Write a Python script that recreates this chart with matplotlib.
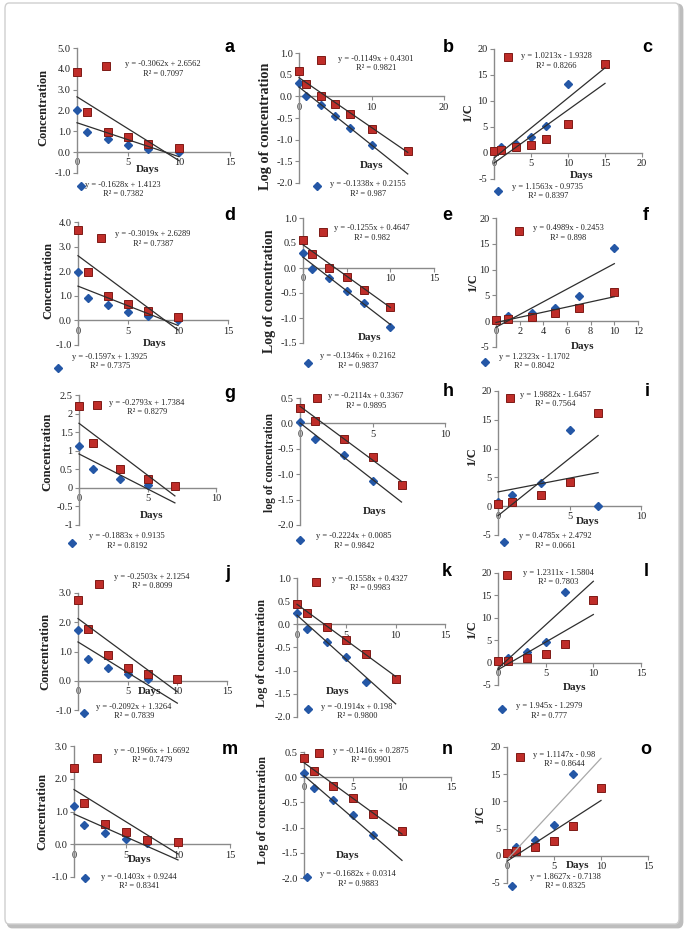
import matplotlib
matplotlib.use('Agg')
import matplotlib.pyplot as plt
import numpy as np
from matplotlib.patches import FancyBboxPatch
from matplotlib.lines import Line2D
from matplotlib.ticker import FuncFormatter

plt.rcParams['font.family'] = ['Liberation Serif', 'DejaVu Serif']
plt.rcParams['axes.unicode_minus'] = False

# ---------------- data ----------------
days4 = [0, 1, 3, 5]
days5 = [0, 1, 3, 5, 7]
days6 = [0, 1, 3, 5, 7, 10]
days7 = [0, 1, 3, 5, 7, 10, 15]

a_red = [3.85, 1.92, 0.99, 0.71, 0.40, 0.19]
a_blue = [2.04, 0.99, 0.63, 0.32, 0.16, 0.02]
b_red = [0.58, 0.28, 0.00, -0.17, -0.41, -0.75, -1.25]
b_blue = [0.31, 0.00, -0.20, -0.46, -0.72, -1.13]
c_red = [0.3, 0.6, 1.2, 1.5, 2.7, 5.6, 17.1]
c_blue = [0.3, 1.1, 1.8, 3.0, 5.2, 13.3]
d_red = [3.69, 1.97, 1.00, 0.66, 0.38, 0.14]
d_blue = [1.97, 0.91, 0.61, 0.33, 0.19, 0.01]
e_red = [0.56, 0.29, 0.01, -0.17, -0.43, -0.77]
e_blue = [0.31, -0.02, -0.20, -0.46, -0.71, -1.19]
f_red = [0.3, 0.5, 0.8, 1.5, 2.6, 5.7]
f_blue = [0.3, 1.0, 1.5, 2.6, 4.8, 14.2]
g_red = [2.21, 1.20, 0.50, 0.25, 0.05]
g_blue = [1.14, 0.50, 0.24, 0.08]
h_red = [0.31, 0.05, -0.31, -0.66, -1.21]
h_blue = [0.03, -0.31, -0.62, -1.13]
i_red = [0.35, 0.75, 1.9, 4.2, 16.2]
i_blue = [0.75, 1.9, 4.05, 13.2, 0.0]
j_red = [2.77, 1.76, 0.88, 0.45, 0.22, 0.06]
j_blue = [1.75, 0.76, 0.42, 0.22, 0.05]
k_red = [0.44, 0.24, -0.06, -0.33, -0.65, -1.17]
k_blue = [0.24, -0.11, -0.39, -0.70, -1.24]
l_red = [0.4, 0.45, 1.0, 1.9, 4.25, 14.0]
l_blue = [0.4, 1.0, 2.3, 4.5, 15.7]
m_red = [2.34, 1.26, 0.62, 0.37, 0.14, 0.06]
m_blue = [1.17, 0.59, 0.34, 0.16, 0.04]
n_red = [0.38, 0.12, -0.18, -0.41, -0.73, -1.07]
n_blue = [0.08, -0.21, -0.45, -0.75, -1.15]
o_red = [0.6, 0.8, 1.7, 2.7, 5.4, 12.4]
o_blue = [0.6, 1.7, 2.9, 5.7, 15.0]

# trendline (slope, intercept) and R² as printed
red_fit = {'a': (-0.3062, 2.6562), 'b': (-0.1149, 0.4301), 'c': (1.0213, -1.9328),
           'd': (-0.3019, 2.6289), 'e': (-0.1255, 0.4647), 'f': (0.4989, -0.2453),
           'g': (-0.2793, 1.7384), 'h': (-0.2114, 0.3367), 'i': (1.9882, -1.6457),
           'j': (-0.2503, 2.1254), 'k': (-0.1558, 0.4327), 'l': (1.2311, -1.5804),
           'm': (-0.1966, 1.6692), 'n': (-0.1416, 0.2875), 'o': (1.1147, -0.98)}
blue_fit = {'a': (-0.1628, 1.4123), 'b': (-0.1338, 0.2155), 'c': (1.1563, -0.9735),
            'd': (-0.1597, 1.3925), 'e': (-0.1346, 0.2162), 'f': (1.2323, -1.1702),
            'g': (-0.1883, 0.9135), 'h': (-0.2224, 0.0085), 'i': (0.4785, 2.4792),
            'j': (-0.2092, 1.3264), 'k': (-0.1914, 0.198), 'l': (1.945, -1.2979),
            'm': (-0.1403, 0.9244), 'n': (-0.1682, 0.0314), 'o': (1.8627, -0.7138)}
red_r2 = {'a': '0.7097', 'b': '0.9821', 'c': '0.8266', 'd': '0.7387', 'e': '0.982',
          'f': '0.898', 'g': '0.8279', 'h': '0.9895', 'i': '0.7564', 'j': '0.8099',
          'k': '0.9983', 'l': '0.7803', 'm': '0.7479', 'n': '0.9901', 'o': '0.8644'}
blue_r2 = {'a': '0.7382', 'b': '0.987', 'c': '0.8397', 'd': '0.7375', 'e': '0.9837',
           'f': '0.8042', 'g': '0.8192', 'h': '0.9842', 'i': '0.0661', 'j': '0.7839',
           'k': '0.9800', 'l': '0.777', 'm': '0.8341', 'n': '0.9883', 'o': '0.8325'}

series = {
    'a': (days6, a_red, days6, a_blue), 'b': (days7, b_red, days6, b_blue),
    'c': (days7, c_red, days6, c_blue), 'd': (days6, d_red, days6, d_blue),
    'e': (days6, e_red, days6, e_blue), 'f': (days6, f_red, days6, f_blue),
    'g': (days5, g_red, days4, g_blue), 'h': (days5, h_red, days4, h_blue),
    'i': (days5, i_red, days5, i_blue), 'j': (days6, j_red, days5, j_blue),
    'k': (days6, k_red, days5, k_blue), 'l': (days6, l_red, days5, l_blue),
    'm': (days6, m_red, days5, m_blue), 'n': (days6, n_red, days5, n_blue),
    'o': (days6, o_red, days5, o_blue),
}

# ---------------- layout (pixels) ----------------
W, H = 685, 932
# x0px, x1px, xmax, ytop_px, ybot_px, ymin, ymax, xticks, ystep, yfmt, line_end, kind
layout = {
    'a': (77, 230, 15, 48, 173, -1, 5, [0, 5, 10, 15], 1, '1', 10, 'C'),
    'b': (299, 444, 20, 53, 183, -2, 1, [0, 10, 20], 0.5, '1', 15, 'L'),
    'c': (494, 642, 20, 49, 179, -5, 20, [0, 5, 10, 15, 20], 5, '0', 15, 'I'),
    'd': (78, 228, 15, 222, 345, -1, 4, [0, 5, 10, 15], 1, '1', 10, 'C'),
    'e': (303, 434, 15, 218, 343, -1.5, 1, [0, 5, 10, 15], 0.5, '1', 10, 'L'),
    'f': (496, 638, 12, 218, 347, -5, 20, [0, 2, 4, 6, 8, 10, 12], 5, '0', 10, 'I'),
    'g': (79, 216, 10, 395, 525, -1, 2.5, [0, 5, 10], 0.5, 'g', 7, 'C'),
    'h': (300, 445, 10, 398, 525, -2, 0.5, [0, 5, 10], 0.5, '1', 7, 'l'),
    'i': (498, 641, 10, 391, 535, -5, 20, [0, 5, 10], 5, '0', 7, 'I'),
    'j': (78, 227, 15, 593, 710, -1, 3, [0, 5, 10, 15], 1, '1', 10, 'C'),
    'k': (297, 445, 15, 578, 717, -2, 1, [0, 5, 10, 15], 0.5, '1', 10, 'L'),
    'l': (498, 641, 15, 573, 685, -5, 20, [0, 5, 10, 15], 5, '0', 10, 'I'),
    'm': (74, 230, 15, 746, 877, -1, 3, [0, 5, 10, 15], 1, '1', 10, 'C'),
    'n': (304, 451, 15, 752, 878, -2, 0.5, [0, 5, 10, 15], 0.5, '1', 10, 'L'),
    'o': (507, 648, 15, 747, 883, -5, 20, [0, 5, 10, 15], 5, '0', 10, 'I'),
}
# red marker, red text (center, first line y), blue marker, blue text
labels_px = {
    'a': ((106, 66), (163, 65), (81, 186), (123, 186)),
    'b': ((321, 60), (376, 60), (317, 186), (368, 185)),
    'c': ((508, 57), (556, 57), (498, 191), (548, 188)),
    'd': ((101, 238), (153, 235), (58, 368), (110, 358)),
    'e': ((323, 232), (372, 229), (308, 363), (358, 357)),
    'f': ((519, 231), (568, 229), (485, 362), (534, 358)),
    'g': ((97, 405), (147, 404), (72, 543), (127, 537)),
    'h': ((317, 398), (366, 397), (300, 540), (354, 537)),
    'i': ((510, 398), (555, 396), (504, 542), (555, 537)),
    'j': ((99, 584), (152, 578), (84, 713), (134, 708)),
    'k': ((316, 582), (370, 580), (308, 709), (357, 708)),
    'l': ((507, 575), (558, 574), (502, 709), (549, 707)),
    'm': ((97, 758), (152, 752), (85, 878), (139, 878)),
    'n': ((319, 753), (371, 752), (307, 877), (358, 875)),
    'o': ((520, 757), (564, 756), (512, 886), (565, 878)),
}
ylabel_px = {'a': (43, 107, 9), 'b': (266, 126, 10.3), 'c': (468, 113, 9),
             'd': (48, 280, 9), 'e': (270, 291, 10), 'f': (473, 283, 9),
             'g': (47, 452, 9.2), 'h': (270, 462, 8.4), 'i': (472, 457, 9),
             'j': (45, 651, 9), 'k': (262, 653, 8.7), 'l': (472, 630, 9),
             'm': (42, 811, 9), 'n': (263, 810, 8.7), 'o': (480, 815, 9)}
days_px = {'a': (148, 170), 'b': (372, 165), 'c': (582, 175), 'd': (155, 344),
           'e': (370, 338), 'f': (583, 347), 'g': (152, 516), 'h': (375, 512),
           'i': (588, 521), 'j': (150, 692), 'k': (338, 692), 'l': (575, 688),
           'm': (140, 860), 'n': (348, 855), 'o': (578, 865)}
letter_px = {'a': (230, 48), 'b': (448, 48), 'c': (647, 48), 'd': (230, 215),
             'e': (447, 215), 'f': (646, 215), 'g': (230, 393), 'h': (448, 392),
             'i': (647, 392), 'j': (228, 573), 'k': (447, 572), 'l': (646, 572),
             'm': (230, 750), 'n': (447, 750), 'o': (646, 750)}

RED = '#BF2D29'
RED_EDGE = '#7E1A16'
BLUE = '#2457A6'
GRAY = '#8a8a8a'
LINE = '#2e2e2e'

fig = plt.figure(figsize=(W / 100, H / 100), dpi=100)
fig.patch.set_facecolor('white')

# frame with shadow
shadow = FancyBboxPatch((8 / W, 1 - 927 / H), 674 / W, 922 / H,
                        boxstyle='round,pad=0,rounding_size=0.006',
                        transform=fig.transFigure, fc='#bdbdbd', ec='#bdbdbd',
                        lw=2, zorder=-3)
frame = FancyBboxPatch((5 / W, 1 - 924 / H), 674 / W, 921 / H,
                       boxstyle='round,pad=0,rounding_size=0.006',
                       transform=fig.transFigure, fc='white', ec='#cfcfcf',
                       lw=1.0, zorder=-2)
fig.patches.extend([shadow, frame])


def fx(x):
    return x / W


def fy(y):
    return 1 - y / H


def eq_text(fit, r2):
    s, b = fit
    sign = '+' if b >= 0 else '-'
    return 'y = %sx %s %s\nR² = %s' % (repr(s), sign, repr(abs(b)), r2)


def make_fmt(kind):
    def f(v, p):
        if abs(v) < 1e-9:
            v = 0.0
        if kind == '1':
            return '%.1f' % v
        if kind == '0':
            return '%d' % round(v)
        return ('%g' % v)
    return f


ylabel_text = {'C': 'Concentration', 'L': 'Log of concentration',
               'l': 'log of concentration', 'I': '1/C'}

for key in 'abcdefghijklmno':
    (x0, x1, xmax, yt, yb, ymin, ymax, xticks, ystep, yfmt, lend, kind) = layout[key]
    ax = fig.add_axes([fx(x0), fy(yb), (x1 - x0) / W, (yb - yt) / H])
    ax.patch.set_visible(False)
    ax.set_xlim(0, xmax)
    ax.set_ylim(ymin, ymax)
    for s in ['top', 'right']:
        ax.spines[s].set_visible(False)
    ax.spines['bottom'].set_position(('data', 0))
    ax.spines['left'].set_position(('data', 0))
    for s in ['bottom', 'left']:
        ax.spines[s].set_color(GRAY)
        ax.spines[s].set_linewidth(1.0)
    ax.set_xticks(xticks)
    ax.set_yticks(np.arange(ymin, ymax + ystep / 2, ystep))
    ax.xaxis.set_major_formatter(FuncFormatter(make_fmt('0')))
    ax.yaxis.set_major_formatter(FuncFormatter(make_fmt(yfmt)))
    ax.tick_params(direction='out', length=3, width=0.8, color=GRAY,
                   labelsize=7.5, pad=1.5, labelcolor='#222222')

    rx, ry, bx, by = series[key]
    ax.plot(bx, by, 'D', ms=3.6, color=BLUE, mec=BLUE, clip_on=False, zorder=3)
    ax.plot(rx, ry, 's', ms=5.6, mfc=RED, mec=RED_EDGE, mew=0.7,
            clip_on=False, zorder=4)
    xs = np.array([0.0, lend])
    rs, rb = red_fit[key]
    bs, bb = blue_fit[key]
    ax.plot(xs, rs * xs + rb, color=LINE, lw=0.9, zorder=5, clip_on=False)
    bcol = '#a8a8a8' if key == 'o' else LINE
    ax.plot(xs, bs * xs + bb, color=bcol, lw=0.9, zorder=5, clip_on=False)

    # equation labels with series glyphs
    (rm, rt, bm, bt) = labels_px[key]
    fig.add_artist(Line2D([fx(rm[0])], [fy(rm[1])], transform=fig.transFigure,
                          marker='s', ms=5.6, mfc=RED, mec=RED_EDGE, mew=0.7, ls=''))
    fig.add_artist(Line2D([fx(bm[0])], [fy(bm[1])], transform=fig.transFigure,
                          marker='D', ms=3.8, color=BLUE, ls=''))
    fig.text(fx(rt[0]), fy(rt[1] - 5), eq_text(red_fit[key], red_r2[key]),
             ha='center', va='top', fontsize=6, linespacing=1.25, color='#222222')
    fig.text(fx(bt[0]), fy(bt[1] - 5), eq_text(blue_fit[key], blue_r2[key]),
             ha='center', va='top', fontsize=6, linespacing=1.25, color='#222222')

    # axis titles
    lx, ly, lfs = ylabel_px[key]
    fig.text(fx(lx), fy(ly), ylabel_text[kind], rotation=90, ha='center',
             va='center', fontsize=lfs, fontweight='bold', color='#222222')
    dx, dy = days_px[key]
    fig.text(fx(dx), fy(dy), 'Days', ha='center', va='center', fontsize=8,
             fontweight='bold', color='#222222')
    lpx, lpy = letter_px[key]
    fig.text(fx(lpx), fy(lpy), key, ha='center', va='center', fontsize=13,
             fontweight='bold', family=['Liberation Sans', 'DejaVu Sans'],
             color='black')

fig.savefig('out.png', dpi=100, facecolor='white')
